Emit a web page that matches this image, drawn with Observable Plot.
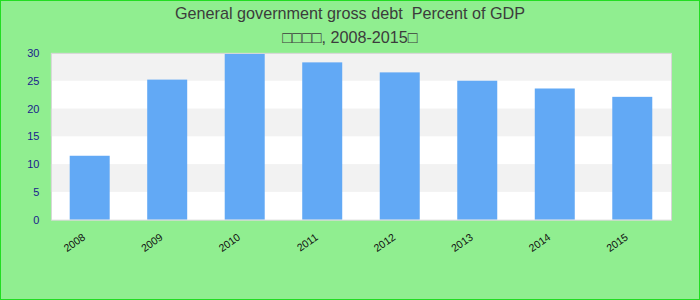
<!DOCTYPE html>
<html>
<head>
<meta charset="utf-8">
<script src="https://cdn.jsdelivr.net/npm/d3@7"></script>
<script src="https://cdn.jsdelivr.net/npm/@observablehq/plot@0.6"></script>
<style>
  html, body { margin: 0; padding: 0; }
  #wrap {
    position: relative; width: 700px; height: 300px; box-sizing: border-box;
    border: 1px solid #22dd22; background: #90ee90; overflow: hidden;
    font-family: "Liberation Sans", Arial, sans-serif;
  }
  .ttl { position: absolute; left: 0; width: 698px; text-align: center; color: #3c3c3c; font-size: 16.2px; }
  #chart { position: absolute; left: -1px; top: -1px; }
</style>
</head>
<body>
<div id="wrap">
  <div class="ttl" style="top:3px;">General government gross debt&nbsp; Percent of GDP</div>
  <div class="ttl" style="top:27px;">□□□□, 2008-2015□</div>
  <div id="chart"></div>
</div>
<script>
const years = ["2008", "2009", "2010", "2011", "2012", "2013", "2014", "2015"];
const debt = [11.5, 25.2, 29.9, 28.3, 26.5, 25.0, 23.6, 22.1];
const yTicks = [0, 5, 10, 15, 20, 25, 30];

const data = years.map((y, i) => ({year: y, value: debt[i]}));
// alternating shaded bands between tick values
const bands = [];
for (let i = yTicks.length - 2; i >= 0; i -= 2) bands.push({y1: yTicks[i], y2: yTicks[i + 1]});

const font = "'Liberation Sans', Arial, sans-serif";
const chart = Plot.plot({
  width: 700,
  height: 300,
  marginLeft: 51,
  marginRight: 28,
  marginTop: 53,
  marginBottom: 80,
  style: {background: "transparent", fontFamily: font},
  x: {domain: years, paddingInner: 0.484, paddingOuter: 0.242, round: false, axis: null},
  y: {domain: [0, 30], axis: null},
  marks: [
    Plot.frame({fill: "white", stroke: null}),
    Plot.rect(bands, {y1: "y1", y2: "y2", fill: "#f2f2f2"}),
    Plot.barY(data, {x: "year", y: "value", fill: "#62a9f5"}),
    Plot.frame({stroke: "#d6d6d6", strokeWidth: 1}),
    Plot.text(yTicks, {y: d => d, text: d => String(d), frameAnchor: "left", textAnchor: "end", dx: -12, fill: "#1a1a8c", fontSize: 11}),
    Plot.text(years, {x: d => d, text: d => d, frameAnchor: "bottom", textAnchor: "end", lineAnchor: "middle", rotate: -35, dx: -6, dy: 16, fill: "#111", fontSize: 10.5})
  ]
});
document.getElementById("chart").appendChild(chart);
</script>
</body>
</html>
